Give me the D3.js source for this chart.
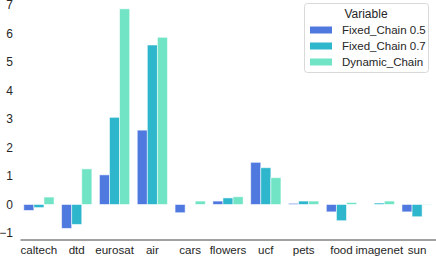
<!DOCTYPE html>
<html><head><meta charset="utf-8">
<script src="https://cdn.jsdelivr.net/npm/d3@7"></script>
<style>body{margin:0;background:#fff}svg{display:block}text{font-family:"Liberation Sans",Arial,sans-serif}</style>
</head><body>
<svg id="c" width="436" height="260"></svg>
<script>
const categories = ["caltech","dtd","eurosat","air","cars","flowers","ucf","pets","food","imagenet","sun"];
const seriesNames = ["Fixed_Chain 0.5","Fixed_Chain 0.7","Dynamic_Chain"];
const fixed05 = [-0.21,-0.84,1.04,2.61,-0.29,0.12,1.48,0.04,-0.26,0.0,-0.26];
const fixed07 = [-0.11,-0.70,3.06,5.60,0.0,0.23,1.29,0.12,-0.57,0.05,-0.43];
const dynamic = [0.26,1.25,6.87,5.87,0.12,0.27,0.94,0.12,0.07,0.12,0.01];
const yTicks = [-1,0,1,2,3,4,5,6,7];
const colors = ["#5079e0","#2db6cc","#70e4c4"];

const series = [fixed05, fixed07, dynamic];
const svg = d3.select("#c");
const x0 = d3.scaleBand().domain(categories).range([20,436]).paddingInner(0).paddingOuter(0);
const x1 = d3.scaleBand().domain(seriesNames).range([0, x0.bandwidth()*0.8]);
const y = d3.scaleLinear().domain([-1.23, 7.18]).range([239.5, 0]);

series.forEach((vals, si) => {
  svg.append("g").selectAll("rect").data(vals).join("rect")
    .attr("x", (d,i) => x0(categories[i]) + x0.bandwidth()*0.1 + x1(seriesNames[si]))
    .attr("width", x1.bandwidth())
    .attr("y", d => y(Math.max(0,d)))
    .attr("height", d => Math.abs(y(d)-y(0)))
    .attr("fill", colors[si])
    .attr("stroke", "#fff").attr("stroke-opacity",0.6).attr("stroke-width",0.9);
});

const ya = svg.append("g").attr("transform","translate(20,0)")
  .call(d3.axisLeft(y).tickValues(yTicks).tickSize(0).tickPadding(7).tickFormat(d => d<0 ? "\u2212"+Math.abs(d) : d));
ya.select(".domain").remove();
ya.selectAll("text").attr("font-size",12).attr("fill","#262626").attr("font-family","Liberation Sans, Arial, sans-serif");

const xa = svg.append("g").attr("transform","translate(0,239.5)")
  .call(d3.axisBottom(x0).tickSize(0).tickPadding(6));
xa.select(".domain").attr("stroke","#444").attr("stroke-width",1.1);
xa.selectAll("text").attr("font-size",11.6).attr("fill","#262626").attr("font-family","Liberation Sans, Arial, sans-serif");

const lg = svg.append("g");
lg.append("rect").attr("x",304.5).attr("y",3.5).attr("width",124).attr("height",69).attr("rx",3)
  .attr("fill","#fff").attr("stroke","#d9d9d9").attr("stroke-width",1);
lg.append("text").attr("x",366).attr("y",17.5).attr("text-anchor","middle").attr("font-size",12).attr("fill","#262626").text("Variable");
seriesNames.forEach((n,i) => {
  const yy = 30 + i*16;
  lg.append("rect").attr("x",310).attr("y",yy-3.5).attr("width",22).attr("height",7).attr("fill",colors[i]);
  lg.append("text").attr("x",342).attr("y",yy+4).attr("font-size",11.5).attr("fill","#262626").text(n);
});
</script>
</body></html>
